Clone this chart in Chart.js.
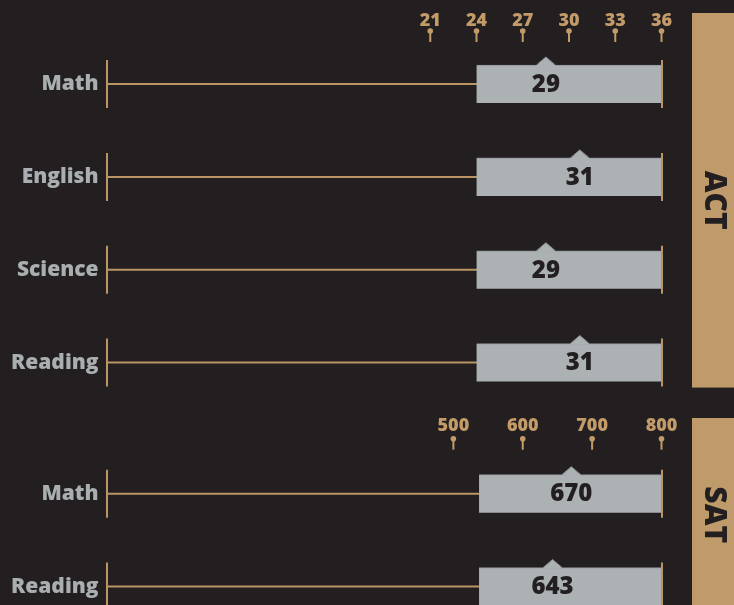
<!DOCTYPE html>
<html>
<head>
<meta charset="utf-8">
<script src="https://cdn.jsdelivr.net/npm/chart.js@4.4.1/dist/chart.umd.min.js"></script>
<style>
  html, body { margin: 0; padding: 0; background: #231f20; width: 734px; height: 605px; overflow: hidden; }
  .wrap { position: absolute; left: 0; width: 734px; }
  #actWrap { top: 0; height: 409px; }
  #satWrap { top: 405px; height: 228px; }
</style>
</head>
<body>
<div class="wrap" id="actWrap"><canvas id="actChart" width="734" height="409"></canvas></div>
<div class="wrap" id="satWrap"><canvas id="satChart" width="734" height="228"></canvas></div>
<script>
const actSubjects = ['Math', 'English', 'Science', 'Reading'];
const actLow = [24, 24, 24, 24];
const actHigh = [36, 36, 36, 36];
const actAvg = [28.5, 30.7, 28.5, 30.7];
const actTicks = [21, 24, 27, 30, 33, 36];

const satSubjects = ['Math', 'Reading'];
const satLow = [537, 537];
const satHigh = [800, 800];
const satAvg = [670, 643];
const satTicks = [500, 600, 700, 800];

const BG = '#231f20';
const GOLD = '#bb9464';
const GOLD_TEXT = '#c29b69';
const PANEL = '#bf9a6b';
const GRAY = '#acb1b4';
const GRAY_EDGE = '#8e9497';
const LABEL = '#a9aeb1';
const FONT = "'Open Sans', 'DejaVu Sans', sans-serif";

function makeChart(id, cfg){
  const rangePlugin = {
    id: 'range_' + id,
    beforeDatasetsDraw(chart){
      const {ctx, scales: {x, y}} = chart;
      ctx.save();
      ctx.strokeStyle = GOLD;
      ctx.lineWidth = 2;
      cfg.labels.forEach((_, i) => {
        const cy = y.getPixelForValue(i);
        ctx.beginPath();
        ctx.moveTo(x.getPixelForValue(0), cy);
        ctx.lineTo(x.getPixelForValue(cfg.max), cy);
        ctx.stroke();
      });
      ctx.restore();
    },
    afterDatasetsDraw(chart){
      const {ctx, chartArea, scales: {x, y}} = chart;
      ctx.save();
      // pointer + value
      cfg.avg.forEach((v, i) => {
        const cx = x.getPixelForValue(v);
        const cy = y.getPixelForValue(i);
        const top = cy - 19;
        ctx.fillStyle = GRAY;
        ctx.beginPath();
        ctx.moveTo(cx - 10, top + 1);
        ctx.lineTo(cx, top - 8);
        ctx.lineTo(cx + 10, top + 1);
        ctx.closePath();
        ctx.fill();
        ctx.strokeStyle = GRAY_EDGE;
        ctx.lineWidth = 1;
        ctx.beginPath();
        ctx.moveTo(cx - 9.5, top);
        ctx.lineTo(cx, top - 8);
        ctx.lineTo(cx + 9.5, top);
        ctx.stroke();
        ctx.fillStyle = BG;
        ctx.font = '800 24px ' + FONT;
        ctx.textAlign = 'center';
        ctx.textBaseline = 'middle';
        ctx.fillText(String(Math.round(v)), cx, cy + 1);
      });
      // end ticks
      ctx.strokeStyle = GOLD;
      ctx.lineWidth = 2;
      cfg.labels.forEach((_, i) => {
        const cy = y.getPixelForValue(i);
        [0, cfg.max].forEach(v => {
          const px = Math.round(x.getPixelForValue(v));
          ctx.beginPath();
          ctx.moveTo(px, cy - 24);
          ctx.lineTo(px, cy + 24);
          ctx.stroke();
        });
      });
      // axis pins
      ctx.fillStyle = GOLD_TEXT;
      ctx.strokeStyle = GOLD_TEXT;
      cfg.ticks.forEach(v => {
        const px = x.getPixelForValue(v);
        ctx.beginPath();
        ctx.arc(px, chartArea.top + cfg.pin, 2.8, 0, Math.PI * 2);
        ctx.fill();
        ctx.beginPath();
        ctx.moveTo(px, chartArea.top + cfg.pin);
        ctx.lineTo(px, chartArea.top + cfg.pin + 11);
        ctx.stroke();
      });
      // side panel
      const pTop = 13;
      const pBot = y.getPixelForValue(cfg.labels.length - 1) + 25;
      ctx.fillStyle = PANEL;
      ctx.fillRect(692, pTop, chart.width - 692, pBot - pTop);
      ctx.translate(714, (pTop + pBot) / 2);
      ctx.rotate(Math.PI / 2);
      ctx.fillStyle = BG;
      ctx.font = '800 30px ' + FONT;
      ctx.textAlign = 'center';
      ctx.textBaseline = 'middle';
      ctx.fillText(cfg.title, 0, 0);
      ctx.restore();
    }
  };

  return new Chart(document.getElementById(id), {
    type: 'bar',
    data: {
      labels: cfg.labels,
      datasets: [{
        data: cfg.low.map((v, i) => [v, cfg.high[i]]),
        backgroundColor: GRAY,
        borderColor: GRAY_EDGE,
        borderWidth: { top: 1, right: 0, bottom: 0, left: 0 },
        borderSkipped: false,
        barThickness: 38
      }]
    },
    options: {
      indexAxis: 'y',
      responsive: false,
      animation: false,
      devicePixelRatio: 1,
      layout: { padding: { left: 0, right: 72.5, top: 0, bottom: 0 } },
      plugins: { legend: { display: false }, tooltip: { enabled: false } },
      scales: {
        x: {
          position: 'top',
          min: 0,
          max: cfg.max,
          grid: { display: false, drawTicks: false },
          border: { display: false },
          afterBuildTicks: (scale) => { scale.ticks = cfg.ticks.map(v => ({ value: v })); },
          afterFit: (scale) => {
            scale.height = cfg.axisHeight;
            scale.paddingLeft = 0;
            scale.paddingRight = 0;
          },
          ticks: {
            color: GOLD_TEXT,
            padding: cfg.tickPad,
            maxRotation: 0,
            autoSkip: false,
            font: { family: FONT, size: 18, weight: 800 }
          }
        },
        y: {
          grid: { display: false, drawTicks: false },
          border: { display: false },
          afterFit: (scale) => {
            scale.width = 106.5;
            scale.paddingTop = 0;
            scale.paddingBottom = 0;
          },
          ticks: {
            color: LABEL,
            padding: 8,
            font: { family: FONT, size: 21, weight: 800 }
          }
        }
      }
    },
    plugins: [rangePlugin]
  });
}

makeChart('actChart', {
  labels: actSubjects, low: actLow, high: actHigh, avg: actAvg,
  ticks: actTicks, max: 36, title: 'ACT', axisHeight: 37.6, tickPad: 6.4, pin: -6.6
});

makeChart('satChart', {
  labels: satSubjects, low: satLow, high: satHigh, avg: satAvg,
  ticks: satTicks, max: 800, title: 'SAT', axisHeight: 42.2, tickPad: 10.2, pin: -8.5
});
</script>
</body>
</html>
